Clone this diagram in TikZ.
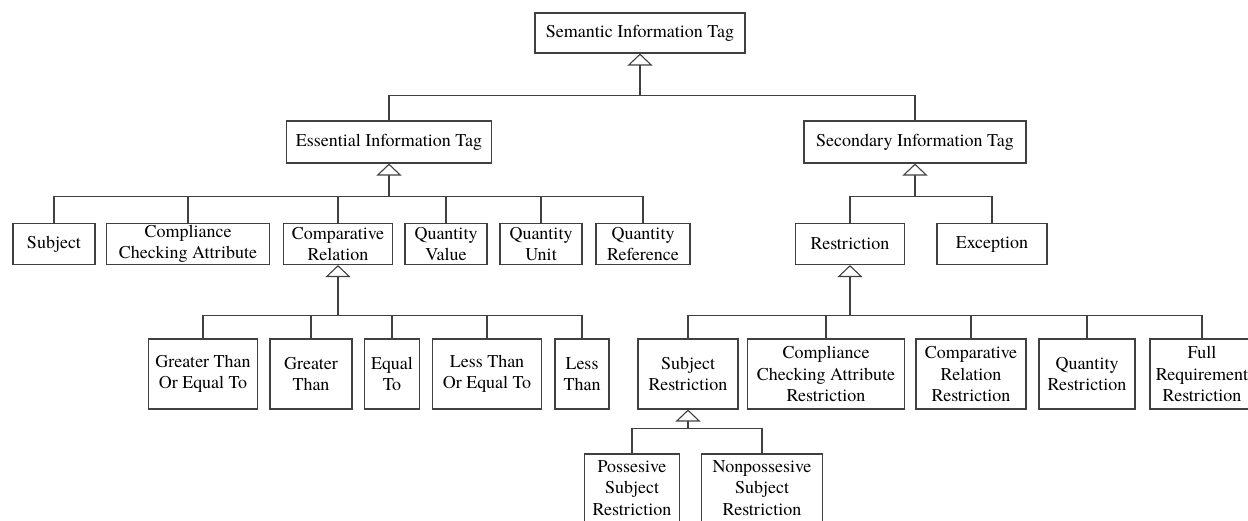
\documentclass[tikz,border=0pt]{standalone}
\usepackage{fontspec}
\newfontfamily\tagfont{texgyretermes}[Extension=.otf, UprightFont=*-regular]
\usetikzlibrary{arrows.meta}
\tikzset{
  tagbox/.style={draw=black!75, line width=1.1pt, fill=white, align=center,
    inner sep=0pt, font=\tagfont\fontsize{18}{21.5}\selectfont},
  sized/.style 2 args={minimum width=#1pt, minimum height=#2pt},
  link/.style={draw=black!75, line width=1.1pt},
  isa/.style={link, -{Triangle[open, length=12pt, width=25pt]}}
}
\begin{document}
\begin{tikzpicture}[x=1pt, y=-1pt]
  \useasboundingbox (0,0) rectangle (1248,520);
  \clip (0,0) rectangle (1248,520);
  \node[tagbox, sized={210}{40}] (sem) at (640,33) {Semantic Information Tag};
  \node[tagbox, sized={205}{42}] (ess) at (389,142) {Essential Information Tag};
  \node[tagbox, sized={222}{42}] (sec) at (915,142) {Secondary Information Tag};
  \node[tagbox, sized={82}{41}] (subj) at (54,244) {Subject};
  \node[tagbox, sized={163}{41}] (cca) at (188,244) {Compliance\\Checking Attribute};
  \node[tagbox, sized={109}{41}] (cmp) at (338,244) {Comparative\\Relation};
  \node[tagbox, sized={82}{41}] (qv) at (446,244) {Quantity\\Value};
  \node[tagbox, sized={82}{41}] (qu) at (541,244) {Quantity\\Unit};
  \node[tagbox, sized={94}{41}] (qr) at (643,244) {Quantity\\Reference};
  \node[tagbox, sized={109}{41}] (res) at (850,244) {Restriction};
  \node[tagbox, sized={110}{41}] (exc) at (992,244) {Exception};
  \node[tagbox, sized={109}{70}] (gte) at (203,374) {Greater Than\\Or Equal To};
  \node[tagbox, sized={82}{70}] (gt) at (311,374) {Greater\\Than};
  \node[tagbox, sized={55}{70}] (eq) at (392,374) {Equal\\To};
  \node[tagbox, sized={109}{70}] (lte) at (487,374) {Less Than\\Or Equal To};
  \node[tagbox, sized={54}{70}] (lt) at (582,374) {Less\\Than};
  \node[tagbox, sized={100}{70}] (sres) at (688,374) {Subject\\Restriction};
  \node[tagbox, sized={157}{70}] (ccares) at (826,374) {Compliance\\Checking Attribute\\Restriction};
  \node[tagbox, sized={110}{70}] (cmpres) at (971,374) {Comparative\\Relation\\Restriction};
  \node[tagbox, sized={96}{70}] (qres) at (1087,374) {Quantity\\Restriction};
  \node[tagbox, sized={104}{70}] (fres) at (1202,374) {Full\\Requirement\\Restriction};
  \node[tagbox, sized={95}{68}] (pos) at (632,488) {Possesive\\Subject\\Restriction};
  \node[tagbox, sized={121}{68}] (npos) at (762,488) {Nonpossesive\\Subject\\Restriction};
  \draw[isa] (sem.south) ++(0,42) coordinate (semhub) -- (sem.south);
  \foreach \c in {ess,sec}
    \draw[link] (\c.north) |- (semhub);
  \draw[isa] (ess.south) ++(0,33) coordinate (esshub) -- (ess.south);
  \foreach \c in {subj,cca,cmp,qv,qu,qr}
    \draw[link] (\c.north) |- (esshub);
  \draw[isa] (sec.south) ++(0,33) coordinate (sechub) -- (sec.south);
  \foreach \c in {res,exc}
    \draw[link] (\c.north) |- (sechub);
  \draw[isa] (cmp.south) ++(0,50) coordinate (cmphub) -- (cmp.south);
  \foreach \c in {gte,gt,eq,lte,lt}
    \draw[link] (\c.north) |- (cmphub);
  \draw[isa] (res.south) ++(0,50) coordinate (reshub) -- (res.south);
  \foreach \c in {sres,ccares,cmpres,qres,fres}
    \draw[link] (\c.north) |- (reshub);
  \draw[isa] (sres.south) ++(0,19) coordinate (sreshub) -- (sres.south);
  \foreach \c in {pos,npos}
    \draw[link] (\c.north) |- (sreshub);
\end{tikzpicture}
\end{document}
